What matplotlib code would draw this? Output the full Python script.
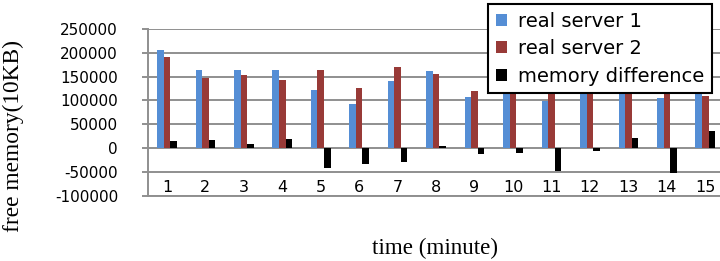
import matplotlib
matplotlib.use("Agg")
import matplotlib.pyplot as plt
import numpy as np

minutes = [str(i) for i in range(1, 16)]
server1 = [205000, 164600, 164600, 163900, 122200, 91700, 141000, 161100, 107600,
           145000, 97900, 140000, 155000, 104200, 143700]
server2 = [190300, 147200, 154200, 142400, 163200, 125700, 170800, 156300, 120100,
           154700, 146500, 146900, 133500, 157700, 109000]
difference = [14600, 17400, 9000, 19400, -41700, -34700, -30600, 3500, -13200,
              -9700, -48600, -6900, 21500, -53500, 34700]
yticks = [-100000, -50000, 0, 50000, 100000, 150000, 200000, 250000]

W, H = 720, 261
fig = plt.figure(figsize=(W / 100, H / 100), dpi=100)
left, right = 147.7, 724.5
top, bottom = 29.0, 195.5
ax = fig.add_axes([left / W, 1 - bottom / H, (right - left) / W, (bottom - top) / H])

x = np.arange(1, 16)
bw = 0.17
grid_c = "#8f8f8f"
ax.bar(x - bw, server1, bw, color="#558ED5", label="real server 1", zorder=3)
ax.bar(x, server2, bw, color="#983A37", label="real server 2", zorder=3)
ax.bar(x + bw, difference, bw, color="#000000", label="memory difference", zorder=3)

ax.set_xlim(0.5, 15.5)
ax.set_ylim(-100000, 250000)
ax.set_yticks(yticks)
ax.set_yticklabels([str(v) for v in yticks], fontsize=11, family="DejaVu Sans")
ax.yaxis.grid(True, color=grid_c, linewidth=1.4, zorder=0)
ax.set_axisbelow(True)
ax.tick_params(axis="y", direction="out", length=4.3, width=1.4, color=grid_c, pad=17)
ax.set_xticks(x)
ax.set_xticklabels(minutes, fontsize=11.5, family="DejaVu Sans")
ax.tick_params(axis="x", length=0, pad=-10.8)

for s in ["top", "right"]:
    ax.spines[s].set_visible(False)
for s in ["left", "bottom"]:
    ax.spines[s].set_color(grid_c)
    ax.spines[s].set_linewidth(1.4)

fig.text(13 / W, 1 - 136 / H, "free memory(10KB)", rotation=90, ha="center", va="center",
         fontsize=16.8, family="Liberation Serif")
fig.text(435 / W, 1 - 248 / H, "time (minute)", ha="center", va="center",
         fontsize=16.6, family="Liberation Serif")

leg = fig.legend(loc="upper left", bbox_to_anchor=(488 / W, 1 - 4 / H),
                 bbox_transform=fig.transFigure, borderaxespad=0, fontsize=14,
                 frameon=True, fancybox=False, framealpha=1, handlelength=0.58,
                 handleheight=0.58, handletextpad=0.55, labelspacing=0.43, borderpad=0.4)
leg.get_frame().set_edgecolor("black")
leg.get_frame().set_linewidth(1.5)
for t in leg.get_texts():
    t.set_family("DejaVu Sans")

fig.savefig("out.png", dpi=100)
